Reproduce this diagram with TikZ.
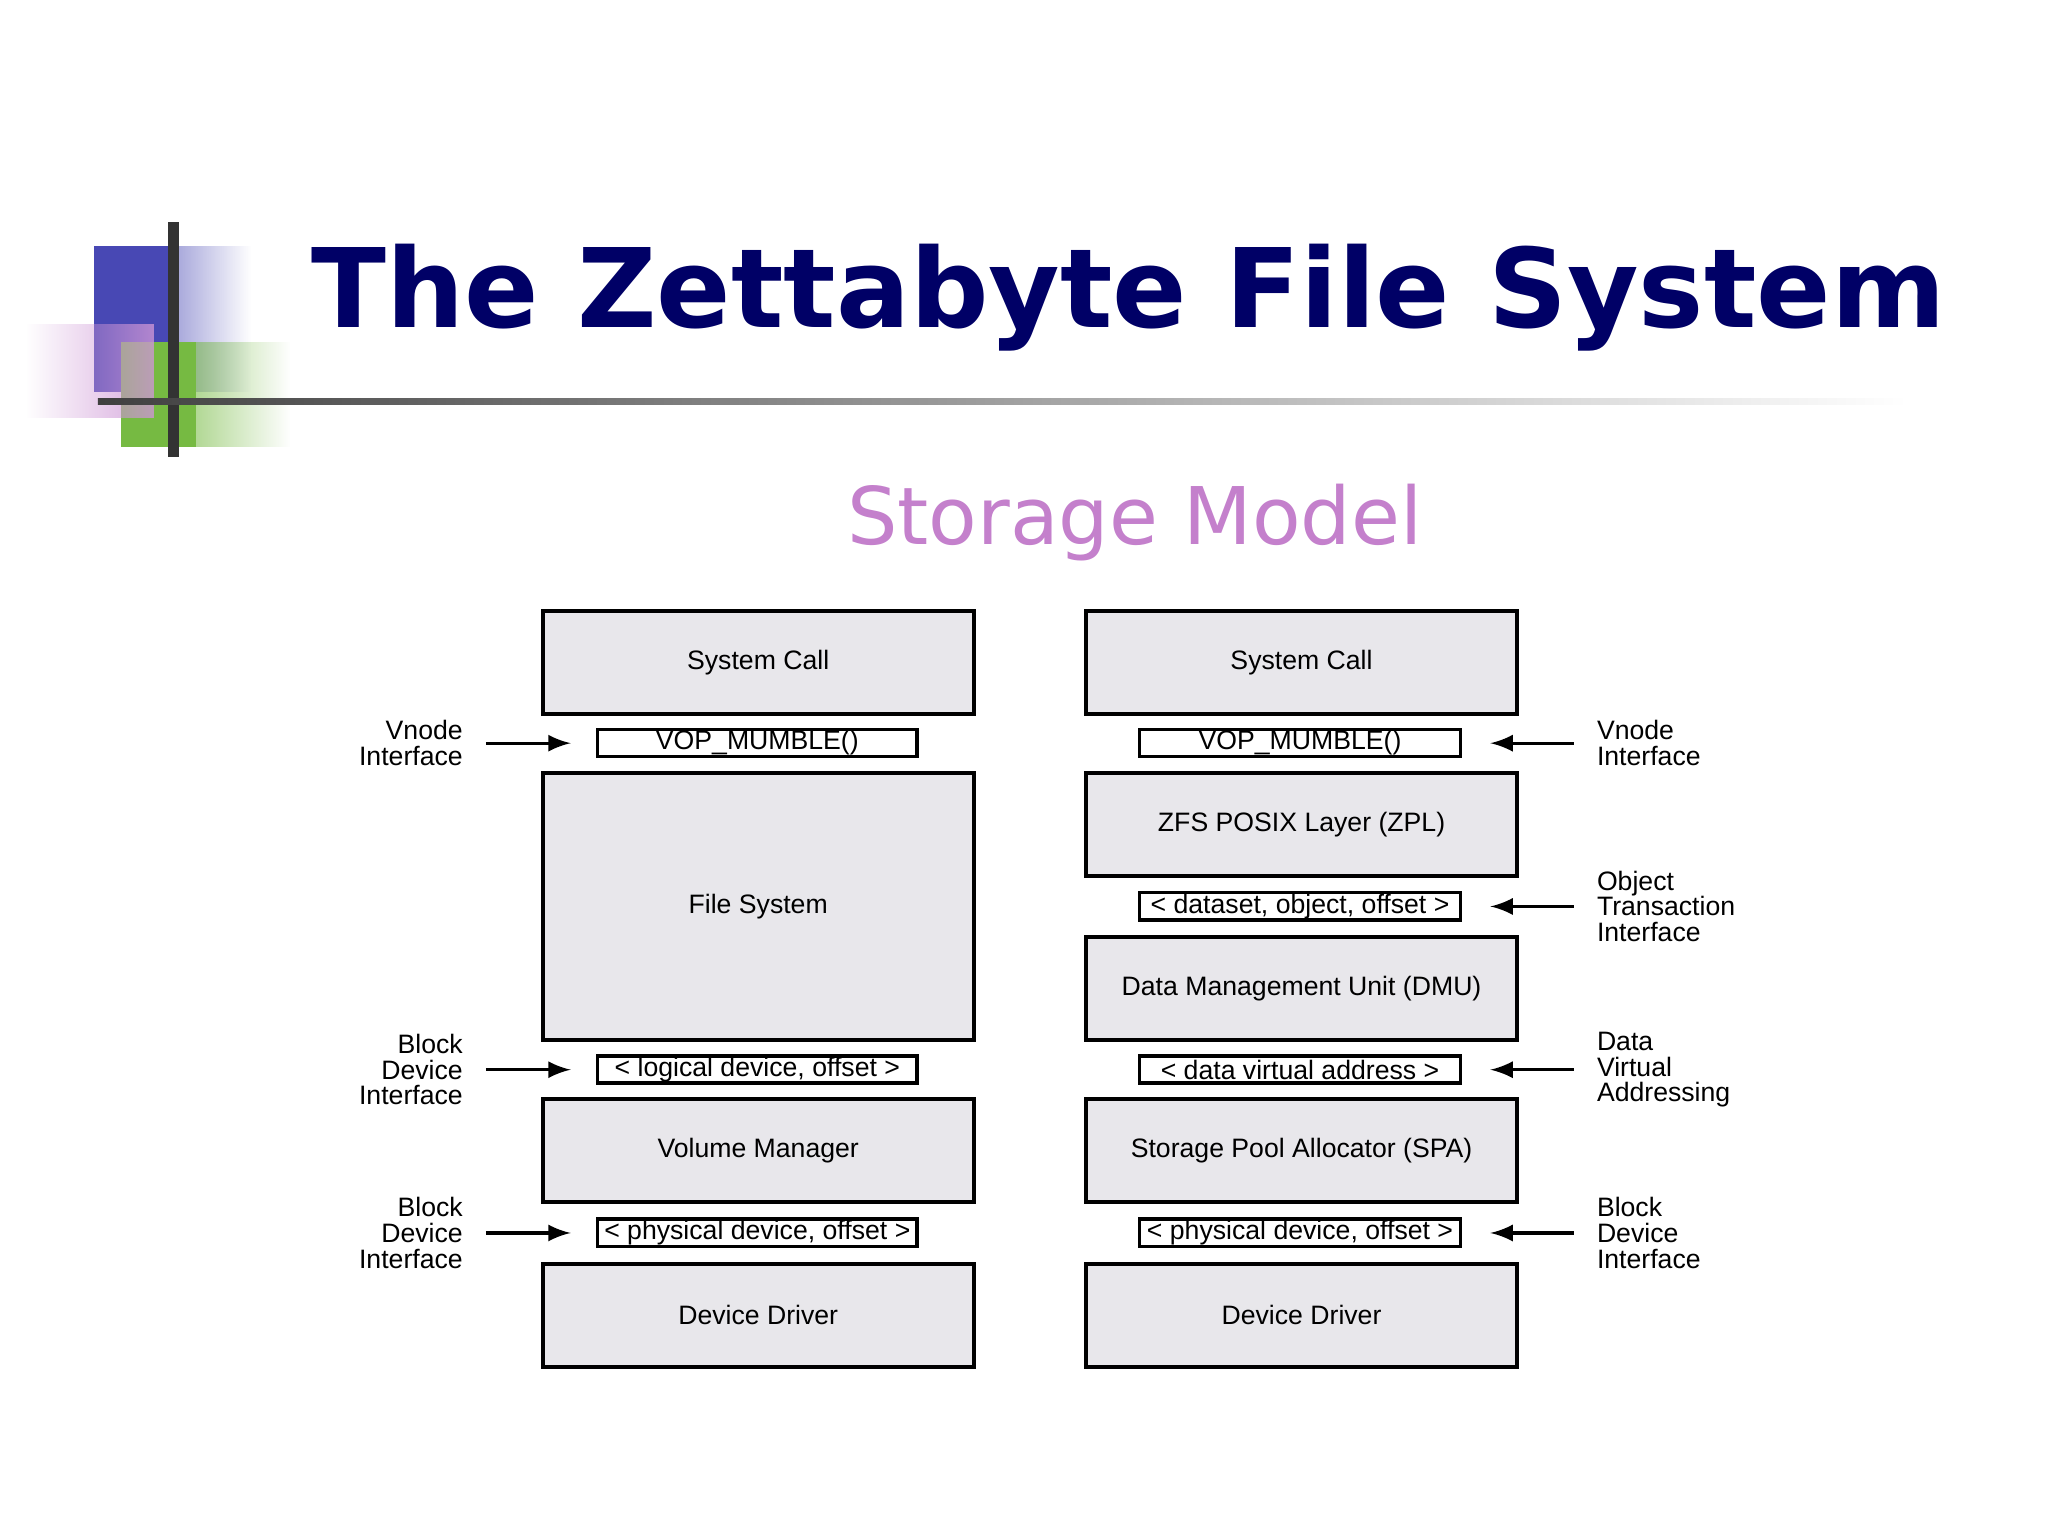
\documentclass[tikz,border=0pt]{standalone}
\usepackage{fontspec}
\setmainfont{Liberation Sans}
\newfontfamily\dvs{DejaVu Sans}
\usetikzlibrary{fadings}
\definecolor{navy}{RGB}{0,0,102}
\definecolor{orch}{RGB}{196,128,204}
\definecolor{boxfill}{RGB}{232,231,235}
\definecolor{lblue}{RGB}{72,72,180}
\definecolor{lgreen}{RGB}{118,186,66}
\definecolor{lpink}{RGB}{206,150,214}
\tikzset{
  big/.style={draw=black,line width=0.9pt,fill=boxfill},
  small/.style={draw=black,line width=0.8pt,fill=white},
  txt/.style={font=\fontsize{5.8pt}{6.5pt}\selectfont},
  lbl/.style={font=\fontsize{5.8pt}{5.6pt}\selectfont,align=left,inner sep=0pt},
  lblr/.style={font=\fontsize{5.8pt}{5.6pt}\selectfont,align=right,inner sep=0pt},
  arr/.style={-latex,line width=0.7pt}
}
\newcommand{\bx}[6]{\node[#6,txt,minimum width=#3*0.01cm-0.9pt,minimum height=#4*0.01cm-0.9pt,anchor=north west,inner sep=0pt] (#1) at (#2) {#5};}
\begin{document}
\begin{tikzpicture}[x=0.01cm,y=-0.01cm]
\useasboundingbox (0,0) rectangle (1568,1176);
\fill[white] (0,0) rectangle (1568,1176);
% logo
\fill[lblue,path fading=east] (72,188) rectangle (192,300);
\fill[lblue] (72,188) rectangle (130,300);
\fill[lgreen,path fading=east] (93,262) rectangle (222,342);
\fill[lgreen] (93,262) rectangle (150,342);
\fill[lpink,opacity=0.8,path fading=west] (20,248) rectangle (118,320);
\draw[line width=2.5pt,black!80] (133,170) -- (133,350);
\shade[left color=black!75,right color=white] (75,305) rectangle (1460,310);
% title
\node[anchor=west,inner sep=0pt,text=navy] (title) at (238,228) {\resizebox{12.5cm}{!}{\dvs\bfseries The Zettabyte File System}};
\node[anchor=west,inner sep=0pt,text=orch] (sub) at (648,400) {\resizebox{4.4cm}{!}{\dvs Storage Model}};
% left column
\bx{lsc}{414,466}{333}{82}{System Call}{big}
\bx{lvop}{456,557}{248}{24}{VOP\_MUMBLE()}{small}
\bx{lfs}{414,590}{333}{208}{File System}{big}
\bx{llog}{456,807}{248}{24}{< logical device, offset >}{small}
\bx{lvm}{414,840}{333}{82}{Volume Manager}{big}
\bx{lphy}{456,932}{248}{24}{< physical device, offset >}{small}
\bx{ldd}{414,966}{333}{82}{Device Driver}{big}
% right column
\bx{rsc}{830,466}{333}{82}{System Call}{big}
\bx{rvop}{871,557}{249}{24}{VOP\_MUMBLE()}{small}
\bx{rzpl}{830,590}{333}{82}{ZFS POSIX Layer (ZPL)}{big}
\bx{rds}{871,682}{249}{24}{< dataset, object, offset >}{small}
\bx{rdmu}{830,716}{333}{82}{Data Management Unit (DMU)}{big}
\bx{rdva}{871,807}{249}{24}{< data virtual address >}{small}
\bx{rspa}{830,840}{333}{82}{Storage Pool Allocator (SPA)}{big}
\bx{rphy}{871,932}{249}{24}{< physical device, offset >}{small}
\bx{rdd}{830,966}{333}{82}{Device Driver}{big}
% left labels
\node[lblr,anchor=east] (l1) at (355,569) {Vnode\\Interface};
\node[lblr,anchor=east] (l2) at (355,819) {Block\\Device\\Interface};
\node[lblr,anchor=east] (l3) at (355,944) {Block\\Device\\Interface};
\coordinate (a1) at (372,569); \coordinate (a2) at (372,819); \coordinate (a3) at (372,944);
\draw[arr] (a1) -- (437,569);
\draw[arr] (a2) -- (437,819);
\draw[arr] (a3) -- (437,944);
% right labels
\node[lbl,anchor=west] (r1) at (1222,569) {Vnode\\Interface};
\node[lbl,anchor=west] (r2) at (1222,694) {Object\\Transaction\\Interface};
\node[lbl,anchor=west] (r3) at (1222,819) {Data\\Virtual\\Addressing};
\node[lbl,anchor=west] (r4) at (1222,944) {Block\\Device\\Interface};
\coordinate (b1) at (1205,569); \coordinate (b2) at (1205,694); \coordinate (b3) at (1205,819); \coordinate (b4) at (1205,944);
\draw[arr] (b1) -- (1141,569);
\draw[arr] (b2) -- (1141,694);
\draw[arr] (b3) -- (1141,819);
\draw[arr] (b4) -- (1141,944);
\end{tikzpicture}
\end{document}
